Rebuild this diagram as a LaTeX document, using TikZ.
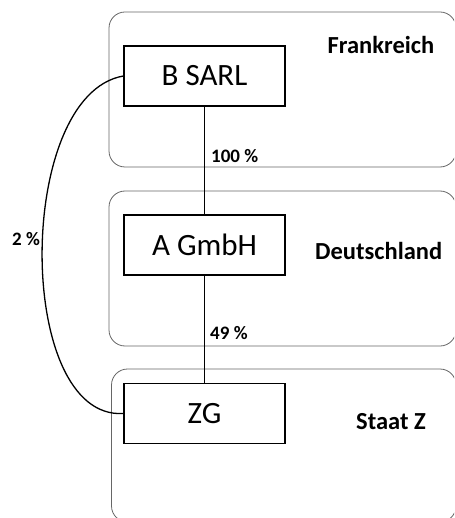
\documentclass[tikz,border=0pt]{standalone}
\usepackage{fontspec}
\setmainfont{Carlito}
\begin{document}
\begin{tikzpicture}[x=1pt,y=-1pt,
  region/.style={draw=black!60,line width=0.8pt,rounded corners=16pt},
  company/.style={draw=black,line width=1.4pt,minimum width=161pt,minimum height=60pt,inner sep=0pt,font=\fontsize{31}{36}\selectfont},
  country/.style={font=\fontsize{24.5}{28}\selectfont\bfseries,inner sep=0pt},
  share/.style={font=\fontsize{19}{22}\selectfont\bfseries,inner sep=0pt,anchor=base west},
  link/.style={draw=black,line width=1.3pt}]
\useasboundingbox (0,0) rectangle (454,518);
\begin{scope}
\clip (0,0) rectangle (454,518);
\draw[region] (109,12) rectangle (456,167);
\draw[region] (109,191) rectangle (456,346);
\draw[region] (111.5,369) rectangle (456,522);
\end{scope}
\node[company] (b) at (204.5,76) {B SARL};
\node[company] (a) at (204.5,245) {A GmbH};
\node[company] (z) at (204.5,413.5) {ZG};
\node[country,anchor=base] (fr) at (381,54) {Frankreich};
\node[country,anchor=base west] (de) at (315,259) {Deutschland};
\node[country,anchor=base west] (sz) at (356,429) {Staat Z};
\draw[link] (b.south) -- (a.north);
\draw[link] (a.south) -- (z.north);
\draw[link] (b.west) .. controls (15,95) and (15,420) .. (z.west);
\node[share] (p100) at (211,163) {100 \%};
\node[share] (p49) at (210,339) {49 \%};
\node[share] (p2) at (12,245) {2 \%};
\end{tikzpicture}
\end{document}
